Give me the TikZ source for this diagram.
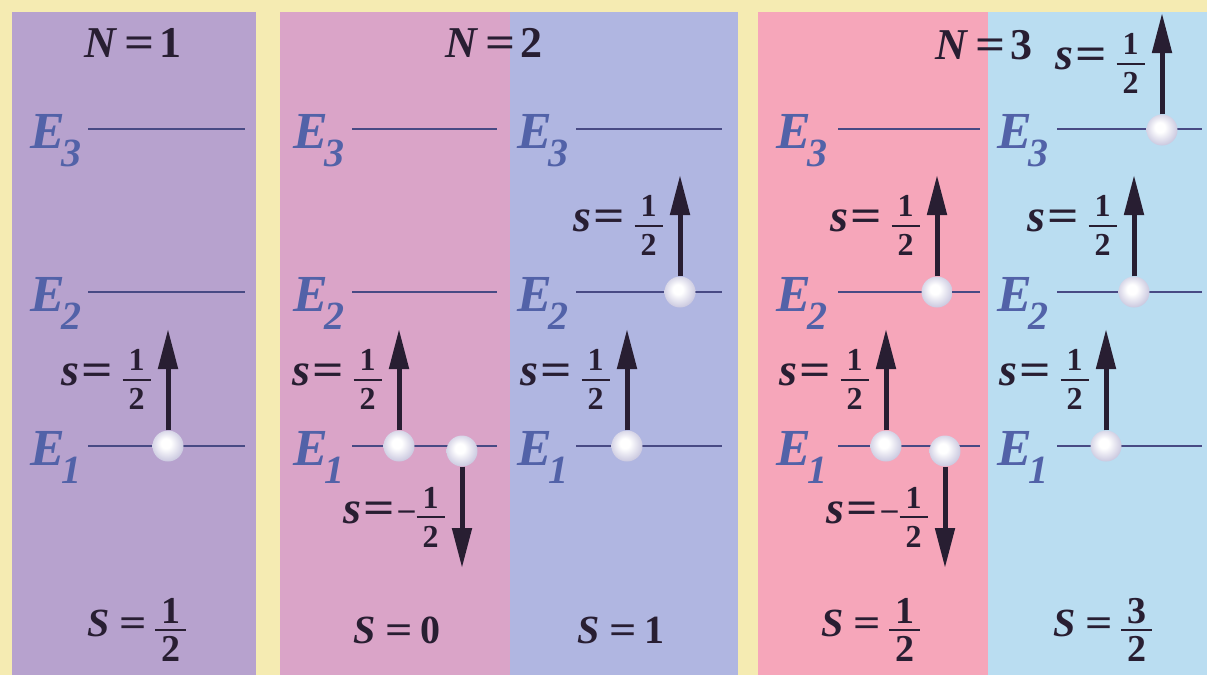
\documentclass[tikz,border=0pt]{standalone}
\usepackage{fontspec}
\setmainfont{Liberation Serif}
\usetikzlibrary{arrows.meta,calc}
\definecolor{bgy}{RGB}{245,235,178}
\definecolor{pA}{RGB}{183,162,206}
\definecolor{pBl}{RGB}{218,164,200}
\definecolor{pBr}{RGB}{176,182,225}
\definecolor{pCl}{RGB}{246,166,186}
\definecolor{pCr}{RGB}{186,221,241}
\definecolor{ecol}{RGB}{82,98,168}
\definecolor{lcol}{RGB}{72,74,132}
\definecolor{ink}{RGB}{40,30,50}
\definecolor{ballmid}{RGB}{200,198,222}
\definecolor{balledge}{RGB}{128,126,168}
\pgfdeclareradialshading{pearl}{\pgfpoint{-4bp}{5bp}}{color(0bp)=(white); color(8bp)=(white); color(28bp)=(ballmid); color(50bp)=(balledge)}
\newcommand{\fracx}[4]{$\vcenter{\hbox{\fontsize{#1}{#1}\selectfont\bfseries\upshape\vbox{\offinterlineskip\halign{\hfil\kern6pt##\kern6pt\hfil\cr #2\cr\noalign{\kern#4\hrule height 2.2pt\kern#4}#3\cr}}}}$}
\newcommand{\eqs}{\scalebox{1.2}[1]{=}}
\newcommand{\Nlab}[1]{\fontsize{44}{44}\selectfont\bfseries\textit{N}\kern6pt\eqs\kern5pt#1}
\newcommand{\Slab}[1]{\fontsize{40}{40}\selectfont\bfseries\textit{S}\kern10pt\eqs\kern8pt#1}
\newcommand{\slab}[1]{\fontsize{46}{46}\selectfont\bfseries\textit{s}\kern2pt\eqs\kern10pt#1}
\newcommand{\Elab}[1]{\fontsize{52}{52}\selectfont\bfseries\textit{E}\kern-3pt\raisebox{-18pt}{\fontsize{40}{40}\selectfont\textit{#1}}}
\newcommand{\half}{\fracx{32}{1}{2}{8pt}}
\newcommand{\mhalf}{\kern-6pt\raisebox{4pt}{\fontsize{32}{32}\selectfont\bfseries –}\kern2pt\fracx{32}{1}{2}{8pt}}
\tikzset{
  level/.style={draw=lcol, line width=2.8pt},
  elab/.style={anchor=base west, inner sep=0pt, text=ecol},
  ball/.style={circle, minimum size=31pt, inner sep=0pt, shading=pearl},
  spin/.style={draw=ink, line width=5pt, -{Triangle[length=40pt,width=19pt]}},
  slabel/.style={midway, anchor=east, inner sep=0pt, xshift=-15pt, text=ink},
  title/.style={inner sep=0pt, text=ink}
}
\begin{document}
\begin{tikzpicture}[x=1pt,y=-1pt]
\useasboundingbox (0,0) rectangle (1207,675);
\fill[bgy] (0,0) rectangle (1207,675);
% panels
\fill[pA]  (12,12) rectangle (256,675);
\fill[pBl] (280,12) rectangle (510,675);
\fill[pBr] (510,12) rectangle (738,675);
\fill[pCl] (758,12) rectangle (988,675);
\fill[pCr] (988,12) rectangle (1207,675);
% levels and labels
\foreach \p/\ex/\xa/\xb in {A/30/88/245, B/293/352/497, C/517/576/722, D/776/838/980, F/997/1057/1202}{
  \foreach \n/\yy in {3/129, 2/292, 1/446}{
    \coordinate (\p\n a) at (\xa,\yy);
    \coordinate (\p\n b) at (\xb,\yy);
    \draw[level] (\p\n a) -- (\p\n b);
    \node[elab] (E\p\n) at (\ex,\yy+19) {\Elab{\n}};
  }
}
% titles
\node[title] (N1) at (133,43) {\Nlab{1}};
\node[title] (N2) at (494,43) {\Nlab{2}};
\node[title] (N3) at (984,45) {\Nlab{3}};
% totals
\node[title] (S1) at (137,630) {\Slab{\fracx{38}{1}{2}{5pt}}};
\node[title] (S2) at (397,630) {\Slab{0}};
\node[title] (S3) at (621,630) {\Slab{1}};
\node[title] (S4) at (871,630) {\Slab{\fracx{38}{1}{2}{5pt}}};
\node[title] (S5) at (1103,630) {\Slab{\fracx{38}{3}{2}{5pt}}};
% balls
\node[ball] (bA)  at (168,446) {};
\node[ball] (bB1) at (399,446) {};
\node[ball] (bB2) at (462,451) {};
\node[ball] (bC2) at (680,292) {};
\node[ball] (bC1) at (627,446) {};
\node[ball] (bD2) at (937,292) {};
\node[ball] (bD1) at (886,446) {};
\node[ball] (bDd) at (945,451) {};
\node[ball] (bF3) at (1162,130) {};
\node[ball] (bF2) at (1134,292) {};
\node[ball] (bF1) at (1106,446) {};
% tips
\foreach \b in {bA,bB1,bC2,bC1,bD2,bD1,bF3,bF2,bF1}{
  \coordinate (t\b) at ($(\b)+(0,-117)$);
}
\coordinate (tbB2) at ($(bB2)+(0,117)$);
\coordinate (tbDd) at ($(bDd)+(0,117)$);
% spins
\foreach \b in {bA,bB1,bC2,bC1,bD2,bD1,bF3,bF2,bF1}{
  \draw[spin] (\b) -- (t\b) node[slabel]{\slab{\half}};
}
\draw[spin] (bB2) -- (tbB2) node[slabel]{\slab{\mhalf}};
\draw[spin] (bDd) -- (tbDd) node[slabel]{\slab{\mhalf}};
\end{tikzpicture}
\end{document}
